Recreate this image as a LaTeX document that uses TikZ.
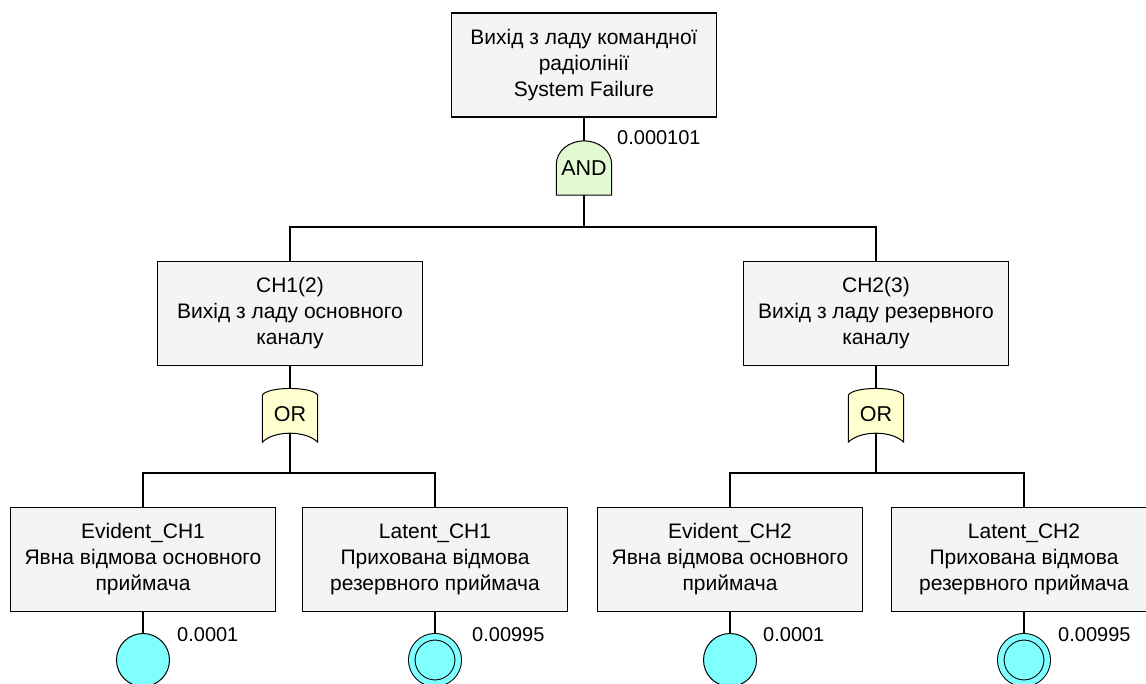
\documentclass[tikz,border=0pt]{standalone}
\usepackage{fontspec}
\setmainfont{Liberation Sans}
\usetikzlibrary{calc}
\pgfdeclarelayer{bg}
\pgfsetlayers{bg,main}
\definecolor{boxfill}{HTML}{F4F4F4}
\definecolor{andfill}{HTML}{E2FAD4}
\definecolor{orfill}{HTML}{FFFFD0}
\definecolor{evfill}{HTML}{80FFFF}
\tikzset{
 evbox/.style={draw, line width=1.2pt, fill=boxfill, minimum width=265pt, minimum height=104pt, align=center, inner sep=0pt, font=\fontsize{21}{26}\selectfont},
 gatelbl/.style={minimum width=55pt, minimum height=54pt, inner sep=0pt, font=\fontsize{21.5}{24}\selectfont},
 basicev/.style={circle, draw, line width=1pt, fill=evfill, minimum size=53pt, inner sep=0pt},
 latentev/.style={circle, draw, line width=1pt, double=evfill, double distance=5.5pt, fill=evfill, minimum size=46.5pt, inner sep=0pt, outer sep=0pt},
 prob/.style={anchor=west, inner sep=0pt, font=\fontsize{20}{24}\selectfont},
 wire/.style={line width=1.2pt},
 andshape/.style={draw, line width=1pt, fill=andfill},
 orshape/.style={draw, line width=1pt, fill=orfill},
}
\newcommand\drawandgate[1]{\path[andshape] (#1.south west) -- ([yshift=30pt]#1.south west) .. controls ([yshift=45pt]#1.south west) and ([shift={(13pt,54pt)}]#1.south west) .. (#1.north) .. controls ([shift={(-13pt,54pt)}]#1.south east) and ([yshift=45pt]#1.south east) .. ([yshift=30pt]#1.south east) -- (#1.south east) -- cycle;}
\newcommand\draworgate[1]{\path[orshape] (#1.south west) -- ([yshift=47pt]#1.south west) .. controls ([shift={(5pt,56pt)}]#1.south west) and ([shift={(-5pt,56pt)}]#1.south east) .. ([yshift=47pt]#1.south east) -- (#1.south east) .. controls ([shift={(-12pt,12pt)}]#1.south east) and ([shift={(12pt,12pt)}]#1.south west) .. (#1.south west) -- cycle;}
\begin{document}
\begin{tikzpicture}[x=1pt, y=-1pt]
\useasboundingbox (0,0) rectangle (1146,684);
\clip (0,0) rectangle (1146,684);
% events
\node[evbox] (top) at (584,65) {Вихід з ладу командної\\радіолінії\\System Failure};
\node[gatelbl] (and) at (584,168) {AND};
\node[evbox] (ch1) at (290,313.5) {CH1(2)\\Вихід з ладу основного\\каналу};
\node[evbox] (ch2) at (876,313.5) {CH2(3)\\Вихід з ладу резервного\\каналу};
\node[gatelbl, minimum height=55pt] (or1) at (290,414.5) {OR};
\node[gatelbl, minimum height=55pt] (or2) at (876,414.5) {OR};
\node[evbox] (e1) at (143,559.5) {Evident\_CH1\\Явна відмова основного\\приймача};
\node[evbox] (l1) at (435,559.5) {Latent\_CH1\\Прихована відмова\\резервного приймача};
\node[evbox] (e2) at (730,559.5) {Evident\_CH2\\Явна відмова основного\\приймача};
\node[evbox] (l2) at (1024,559.5) {Latent\_CH2\\Прихована відмова\\резервного приймача};
\node[basicev] (e1c) at (143,660) {};
\node[latentev] (l1c) at (435,660) {};
\node[basicev] (e2c) at (730,660) {};
\node[latentev] (l2c) at (1024,660) {};
% probabilities
\node[prob] (ptop) at (617,138) {0.000101};
\node[prob] (pe1) at (177,635) {0.0001};
\node[prob] (pl1) at (472,635) {0.00995};
\node[prob] (pe2) at (763,635) {0.0001};
\node[prob] (pl2) at (1058,635) {0.00995};
% bus points
\coordinate (bus0) at (584,227);
\coordinate (bus1) at (290,473);
\coordinate (bus2) at (876,473);
\begin{pgfonlayer}{bg}
\fill[white] (0,0) rectangle (1146,684);
\draw[wire] (top) -- (and);
\draw[wire] (and.center) -- (bus0);
\draw[wire] (ch1.north) |- (bus0) -| (ch2.north);
\draw[wire] (ch1.south) -- (or1.center);
\draw[wire] (ch2.south) -- (or2.center);
\draw[wire] (or1.center) -- (bus1);
\draw[wire] (or2.center) -- (bus2);
\draw[wire] (e1.north) |- (bus1) -| (l1.north);
\draw[wire] (e2.north) |- (bus2) -| (l2.north);
\draw[wire] (e1.south) -- (e1c.center);
\draw[wire] (l1.south) -- (l1c.center);
\draw[wire] (e2.south) -- (e2c.center);
\draw[wire] (l2.south) -- (l2c.center);
\drawandgate{and}
\draworgate{or1}
\draworgate{or2}
\end{pgfonlayer}
\end{tikzpicture}
\end{document}
